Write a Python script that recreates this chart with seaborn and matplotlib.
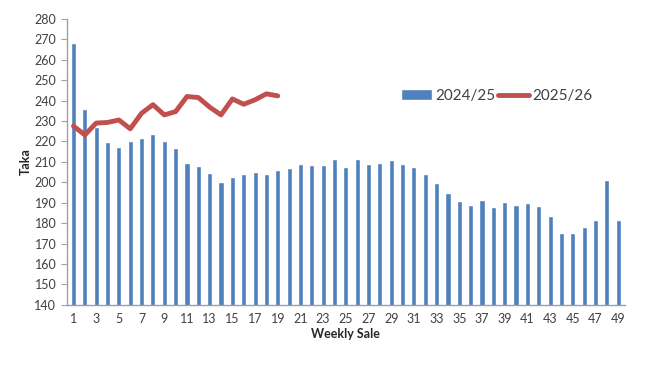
import numpy as np
import pandas as pd
import matplotlib
matplotlib.use("Agg")
import matplotlib.pyplot as plt
import seaborn as sns

# weekly sale prices (Taka)
weeks = list(range(1, 50))
price_2024_25 = [268, 236, 227, 219.5, 217.5, 220, 221.5, 223.5, 220, 217,
                 209.5, 208, 204.5, 200, 202.5, 204, 205, 204, 206, 207,
                 209, 208.5, 208.5, 211.5, 207.5, 211.5, 209, 209.5, 211, 209,
                 207.5, 204, 199.5, 195, 191, 189, 191.5, 188, 190.5, 189,
                 190, 188.5, 183.5, 175.3, 175.3, 178, 181.5, 201.3, 181.5]
weeks_2025_26 = list(range(1, 20))
price_2025_26 = [227.5, 223.2, 229, 229.3, 230.5, 226.2, 233.8, 238, 233, 234.6,
                 242, 241.5, 236.8, 233, 240.8, 238.2, 240.4, 243.3, 242.3]

bar_color = "#4F81BD"
line_color = "#C0504D"

df_bar = pd.DataFrame({"week": weeks, "price": price_2024_25})
df_line = pd.DataFrame({"pos": [w - 1 for w in weeks_2025_26], "price": price_2025_26})

sns.set_style("white")
plt.rcParams["font.family"] = ["Lato", "DejaVu Sans"]

fig = plt.figure(figsize=(6.67, 3.70), dpi=100)
ax = fig.add_axes([0.1, 0.176, 0.837, 0.773])

sns.barplot(data=df_bar, x="week", y="price", color=bar_color, width=0.45,
            saturation=1, ax=ax, label="2024/25")
sns.lineplot(data=df_line, x="pos", y="price", color=line_color, linewidth=3.5,
             ax=ax, label="2025/26")

ax.set_ylim(140, 280)
ax.set_yticks(np.arange(140, 281, 10))
ax.set_xlim(-0.6, len(weeks) - 0.4)
ax.set_xticks(range(0, len(weeks), 2))
ax.set_xticklabels([str(w) for w in weeks[::2]])
ax.set_xticks(np.arange(-0.5, len(weeks), 1), minor=True)
ax.tick_params(axis="x", which="major", length=0, labelsize=9, colors="#404040", pad=6)
ax.tick_params(axis="x", which="minor", length=4, color="#A0A0A0", direction="out")
ax.tick_params(axis="y", length=4, color="#A0A0A0", labelsize=9, colors="#404040",
               direction="out", left=True)

ax.set_xlabel("Weekly Sale", fontsize=9, fontweight="bold", labelpad=2)
ax.set_ylabel("Taka", fontsize=9, fontweight="bold", labelpad=2)

for s in ["top", "right"]:
    ax.spines[s].set_visible(False)
for s in ["left", "bottom"]:
    ax.spines[s].set_color("#A0A0A0")
    ax.spines[s].set_linewidth(1)

handles, labels = ax.get_legend_handles_labels()
order = [labels.index("2024/25"), labels.index("2025/26")]
ax.legend([handles[i] for i in order], [labels[i] for i in order],
          loc="center left", bbox_to_anchor=(0.575, 0.73), ncol=2, frameon=False,
          fontsize=11, handlelength=2.0, handletextpad=0.2, columnspacing=0.2,
          labelcolor="#404040")

fig.savefig("out.png", dpi=100)
